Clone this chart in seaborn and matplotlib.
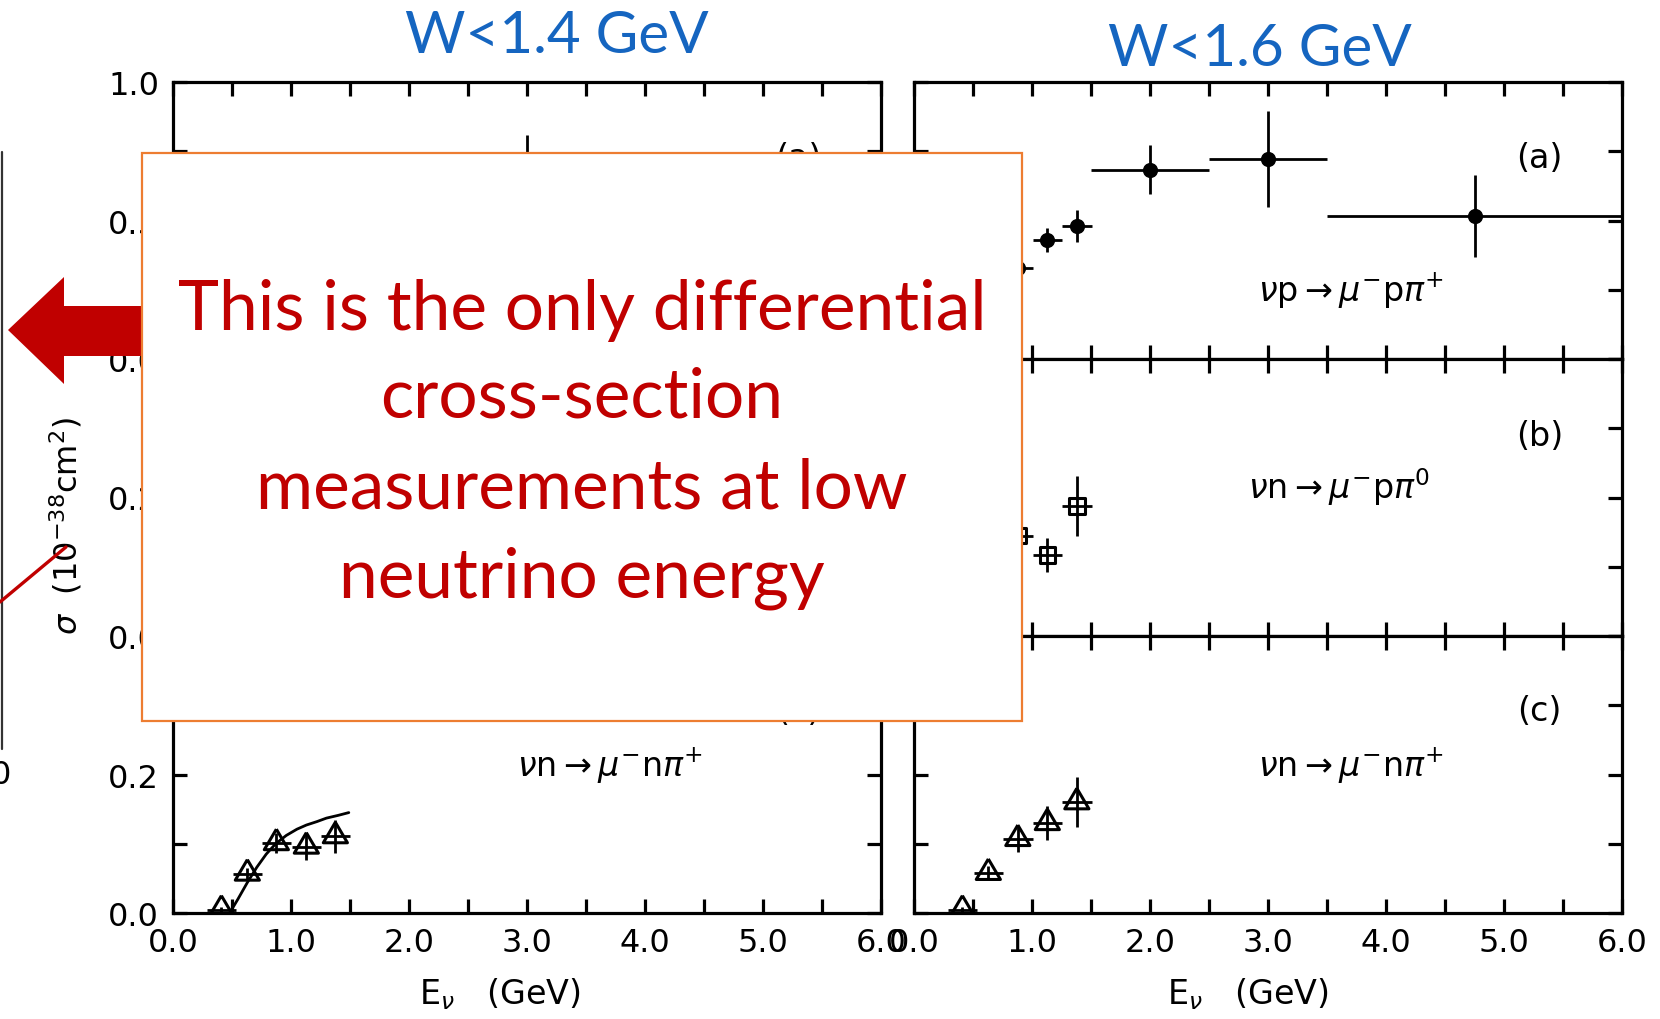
import matplotlib
matplotlib.use("Agg")
import matplotlib.pyplot as plt
import seaborn as sns
import pandas as pd
from matplotlib.patches import Rectangle, Polygon
from matplotlib.lines import Line2D

sns.set_theme(style="ticks")
plt.rcParams["font.family"] = ["DejaVu Sans"]
plt.rcParams["mathtext.fontset"] = "dejavusans"

# ---------------- data: sigma in 1e-38 cm^2 vs E_nu in GeV ----------------
# W < 1.6 GeV column
hi_p_E    = [0.40, 0.63, 0.88, 1.13, 1.38, 2.00, 3.00, 4.75]
hi_p_Eerr = [0.125, 0.125, 0.125, 0.125, 0.125, 0.50, 0.50, 1.25]
hi_p_sig  = [0.04, 0.17, 0.33, 0.43, 0.48, 0.684, 0.722, 0.517]
hi_p_err  = [0.01, 0.025, 0.035, 0.042, 0.057, 0.088, 0.174, 0.147]

hi_n0_E    = [0.40, 0.63, 0.88, 1.13, 1.38]
hi_n0_Eerr = [0.125, 0.125, 0.125, 0.125, 0.125]
hi_n0_sig  = [0.01, 0.07, 0.145, 0.117, 0.188]
hi_n0_err  = [0.008, 0.015, 0.02, 0.025, 0.043]

hi_np_E    = [0.41, 0.63, 0.88, 1.13, 1.38]
hi_np_Eerr = [0.125, 0.125, 0.125, 0.125, 0.125]
hi_np_sig  = [0.005, 0.058, 0.107, 0.130, 0.160]
hi_np_err  = [0.004, 0.01, 0.019, 0.025, 0.036]

# W < 1.4 GeV column
lo_p_E    = [0.40, 0.63, 0.88, 1.13, 1.38, 2.00, 3.00, 4.75]
lo_p_Eerr = [0.125, 0.125, 0.125, 0.125, 0.125, 0.50, 0.50, 1.25]
lo_p_sig  = [0.04, 0.16, 0.30, 0.38, 0.42, 0.55, 0.62, 0.45]
lo_p_err  = [0.01, 0.025, 0.035, 0.04, 0.05, 0.08, 0.19, 0.13]

lo_n0_E    = [0.40, 0.63, 0.88, 1.13, 1.38]
lo_n0_Eerr = [0.125, 0.125, 0.125, 0.125, 0.125]
lo_n0_sig  = [0.01, 0.05, 0.11, 0.10, 0.14]
lo_n0_err  = [0.008, 0.012, 0.018, 0.022, 0.035]

lo_np_E    = [0.41, 0.63, 0.876, 1.13, 1.376]
lo_np_Eerr = [0.125, 0.125, 0.125, 0.125, 0.125]
lo_np_sig  = [0.005, 0.057, 0.101, 0.096, 0.111]
lo_np_err  = [0.004, 0.008, 0.015, 0.02, 0.024]

# model curve for nu n -> mu- n pi+ (W < 1.4 GeV)
curve_E   = [0.48, 0.55, 0.63, 0.71, 0.79, 0.87, 0.96, 1.05, 1.13, 1.22, 1.30, 1.40, 1.49]
curve_sig = [0.0, 0.02, 0.044, 0.066, 0.085, 0.10, 0.112, 0.121, 0.127, 0.132, 0.137, 0.141, 0.145]

x_ticks = [0.0, 0.5, 1.0, 1.5, 2.0, 2.5, 3.0, 3.5, 4.0, 4.5, 5.0, 5.5, 6.0]
x_ticklabels = ["0.0", "", "1.0", "", "2.0", "", "3.0", "", "4.0", "", "5.0", "", "6.0"]
ya_ticks = [0.0, 0.25, 0.5, 0.75, 1.0]
ya_ticklabels = ["0.0", "", "0.5", "", "1.0"]
ybc_ticks = [0.0, 0.1, 0.2, 0.3, 0.4]
ybc_ticklabels = ["0.0", "", "0.2", "", ""]

reactions = [r"$\nu\mathrm{p}\rightarrow\mu^{-}\mathrm{p}\pi^{+}$",
             r"$\nu\mathrm{n}\rightarrow\mu^{-}\mathrm{p}\pi^{0}$",
             r"$\nu\mathrm{n}\rightarrow\mu^{-}\mathrm{n}\pi^{+}$"]
panel_tags = ["(a)", "(b)", "(c)"]
titles = ["W<1.4 GeV", "W<1.6 GeV"]
note_lines = ["This is the only differential", "cross-section",
              "measurements at low", "neutrino energy"]

# ---------------- figure geometry (pixels, origin top-left) ----------------
W, H = 1660, 1020
fig = plt.figure(figsize=(W / 100, H / 100), dpi=100)
fig.patch.set_facecolor("white")


def fx(px):
    return px / W


def fy(py):
    return 1 - py / H


col_left = {"lo": 173, "hi": 914}
col_width = 708
rows = [(83, 360), (360, 637), (637, 914)]

INK = "black"
LW_SPINE = 2.3
LW_ERR = 2.0

tri_marker = [(0, 1.15), (-1, -0.55), (1, -0.55), (0, 1.15)]

series = {
    "lo": [(lo_p_E, lo_p_Eerr, lo_p_sig, lo_p_err),
           (lo_n0_E, lo_n0_Eerr, lo_n0_sig, lo_n0_err),
           (lo_np_E, lo_np_Eerr, lo_np_sig, lo_np_err)],
    "hi": [(hi_p_E, hi_p_Eerr, hi_p_sig, hi_p_err),
           (hi_n0_E, hi_n0_Eerr, hi_n0_sig, hi_n0_err),
           (hi_np_E, hi_np_Eerr, hi_np_sig, hi_np_err)],
}

label_pos = [((3.7, 0.25), (5.3, 0.726)),
             ((3.6, 0.217), (5.3, 0.29)),
             ((3.7, 0.213), (5.3, 0.292))]

for col, x0 in col_left.items():
    for i, (top, bot) in enumerate(rows):
        ax = fig.add_axes([fx(x0), fy(bot), col_width / W, (bot - top) / H])
        ax.set_facecolor("white")
        E, Eerr, sig, err = series[col][i]
        df = pd.DataFrame({"E": E, "sig": sig})

        ax.errorbar(E, sig, xerr=Eerr, yerr=err, fmt="none", ecolor=INK,
                    elinewidth=LW_ERR, capsize=0, zorder=2)
        if i == 0:
            sns.scatterplot(data=df, x="E", y="sig", ax=ax, marker="o", s=120,
                            color=INK, edgecolor=INK, linewidth=0, zorder=3,
                            legend=False)
        elif i == 1:
            sns.scatterplot(data=df, x="E", y="sig", ax=ax, marker="s", s=125,
                            color=INK, facecolor="none", edgecolor=INK,
                            linewidth=2.2, zorder=3, legend=False)
        else:
            sns.scatterplot(data=df, x="E", y="sig", ax=ax, marker=tri_marker,
                            s=400, color=INK, facecolor="none", edgecolor=INK,
                            linewidth=2.2, zorder=3, legend=False)
            if col == "lo":
                cdf = pd.DataFrame({"E": curve_E, "sig": curve_sig})
                sns.lineplot(data=cdf, x="E", y="sig", ax=ax, color=INK,
                             linewidth=2.0, zorder=2)

        ymax = 1.0 if i == 0 else 0.4
        ax.set_xlim(0, 6)
        ax.set_ylim(0, ymax)
        ax.set_xticks(x_ticks)
        if i == 0:
            ax.set_yticks(ya_ticks)
            ylabels = ya_ticklabels
        else:
            ax.set_yticks(ybc_ticks)
            ylabels = ybc_ticklabels
        if col == "lo":
            ax.set_yticklabels(ylabels)
        else:
            ax.set_yticklabels([])
        if i == 2:
            ax.set_xticklabels(x_ticklabels)
        else:
            ax.set_xticklabels([])
        ax.set_xlabel("")
        ax.set_ylabel("")
        for s in ax.spines.values():
            s.set_visible(True)
            s.set_linewidth(LW_SPINE)
            s.set_color(INK)
        ax.tick_params(which="both", direction="in", length=10, width=2.3,
                       top=True, right=True, bottom=True, left=True,
                       labelsize=23, pad=10, colors=INK)
        ax.grid(False)

        (rx, ry), (tx, ty) = label_pos[i]
        ax.text(rx, ry, reactions[i], ha="center", va="center", fontsize=24,
                color=INK)
        ax.text(tx, ty, panel_tags[i], ha="center", va="center", fontsize=24,
                color=INK)

        if i == 2:
            ax.set_xlabel(r"E$_{\nu}$   (GeV)", fontsize=24, color=INK,
                          va="center")
            ax.xaxis.set_label_coords(0.462 if col == "lo" else 0.472, -0.29)

# shared y label of the left column
fig.text(fx(66), fy(526), r"$\sigma$  (10$^{-38}$cm$^{2}$)", rotation=90,
         ha="center", va="center", fontsize=23, color=INK)

# edge of the neighbouring panel
fig.add_artist(Line2D([fx(2), fx(2)], [fy(153), fy(750)], color="#333333",
                      linewidth=1.6, transform=fig.transFigure))
fig.text(fx(1), fy(776), "0", ha="center", va="center", fontsize=23, color=INK)

# column titles
BLUE = "#1565C0"
fig.text(fx(557), fy(53), titles[0], ha="center", va="baseline",
         fontsize=42, color=BLUE, family="Lato")
fig.text(fx(1260), fy(65.6), titles[1], ha="center", va="baseline",
         fontsize=42, color=BLUE, family="Lato")

# red call-out arrow
RED = "#C00000"
arrow_px = [(8, 331), (64, 278), (64, 307), (160, 307), (160, 357), (64, 357),
            (64, 385)]
fig.add_artist(Polygon([(fx(x), fy(y)) for x, y in arrow_px], closed=True,
                       facecolor=RED, edgecolor="none",
                       transform=fig.transFigure, zorder=5))
fig.add_artist(Line2D([fx(0), fx(66)], [fy(603), fy(548)], color=RED,
                      linewidth=2.4, transform=fig.transFigure, zorder=5))

# annotation box
bx0, by0, bx1, by1 = 142, 153.5, 1022, 722
fig.add_artist(Rectangle((fx(bx0), fy(by1)), (bx1 - bx0) / W, (by1 - by0) / H,
                         facecolor="white", edgecolor="#ED7D31", linewidth=1.6,
                         transform=fig.transFigure, zorder=6))
baselines = [330, 418, 509, 598]
for line, yb in zip(note_lines, baselines):
    fig.text(fx(582), fy(yb), line, ha="center", va="baseline", fontsize=50,
             color=RED, family="Lato", zorder=7)

fig.savefig("out.png", dpi=100, facecolor="white")
